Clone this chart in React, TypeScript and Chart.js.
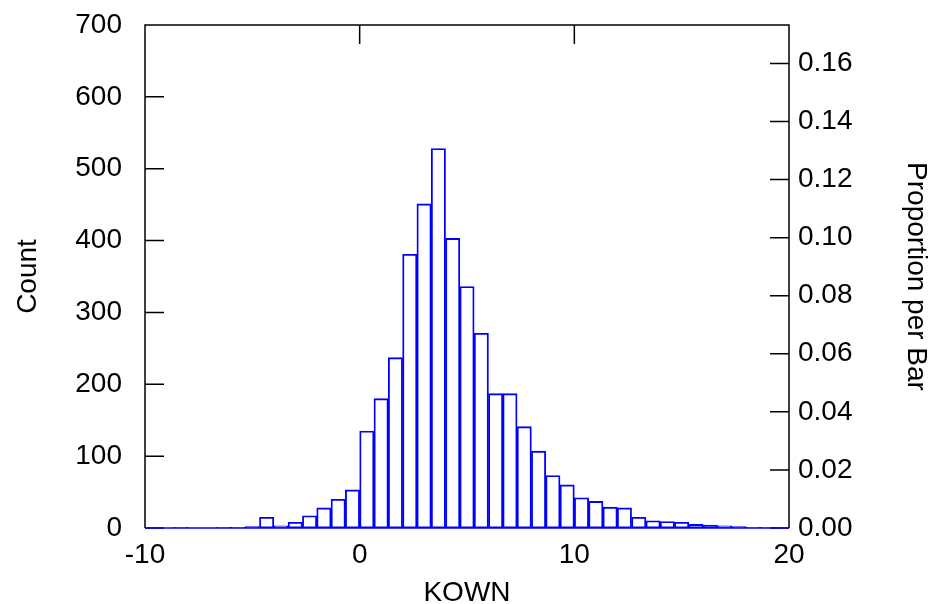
import React, { useEffect, useRef } from "react";
import { Chart, registerables } from "chart.js";

Chart.register(...registerables);

// Histogram bins: first bin starts at -10, each bin is 2/3 wide
const BIN_START = -10;
const BIN_WIDTH = 2 / 3;
const COUNTS = [
  0, 0, 1, 0, 0, 1, 1, 2, 15, 3, 8, 17, 28, 40, 53, 135, 180, 237, 381, 451,
  528, 403, 336, 271, 187, 187, 141, 107, 73, 60, 42, 37, 29, 28, 15, 10, 9, 8,
  5, 4, 3, 2, 1, 1, 1,
];
const X_TICKS = [-10, 0, 10, 20];
const COUNT_TICKS = [0, 100, 200, 300, 400, 500, 600, 700];
const PROPORTION_TICKS = [0, 0.02, 0.04, 0.06, 0.08, 0.1, 0.12, 0.14, 0.16];
const X_TITLE = "KOWN";
const Y_TITLE = "Count";
const Y2_TITLE = "Proportion per Bar";

const TOTAL = COUNTS.reduce((a, b) => a + b, 0);
const COUNT_MAX = 700;
const BAR_COLOR = "#0000ff";
const FONT = { family: "'Liberation Sans', Arial, sans-serif", size: 28 };

const framePlugin = {
  id: "frame",
  beforeDatasetsDraw(chart: any) {
    const { ctx, chartArea, scales } = chart;
    const { left, right, top, bottom } = chartArea;
    const L = 19;
    ctx.save();
    ctx.strokeStyle = "#000";
    ctx.lineWidth = 1.5;
    ctx.beginPath();
    ctx.moveTo(left, bottom);
    ctx.lineTo(left, top);
    ctx.lineTo(right, top);
    ctx.lineTo(right, bottom);
    for (const v of COUNT_TICKS) {
      const y = scales.y.getPixelForValue(v);
      ctx.moveTo(left, y);
      ctx.lineTo(left + L, y);
    }
    for (const v of PROPORTION_TICKS) {
      const y = scales.y2.getPixelForValue(v);
      ctx.moveTo(right, y);
      ctx.lineTo(right - L, y);
    }
    for (const v of X_TICKS) {
      const x = scales.x.getPixelForValue(v);
      ctx.moveTo(x, top);
      ctx.lineTo(x, top + L);
    }
    ctx.stroke();
    ctx.strokeStyle = BAR_COLOR;
    ctx.beginPath();
    ctx.moveTo(left, bottom);
    ctx.lineTo(right, bottom);
    ctx.stroke();
    ctx.restore();
  },
};

const noPad = (s: any) => {
  s.paddingTop = 0;
  s.paddingBottom = 0;
  s.paddingLeft = 0;
  s.paddingRight = 0;
};

export default function App() {
  const ref = useRef<HTMLCanvasElement>(null);

  useEffect(() => {
    document.body.style.margin = "0";
    const chart = new Chart(ref.current as HTMLCanvasElement, {
      type: "bar",
      data: {
        datasets: [
          {
            data: COUNTS.map((c, i) => ({ x: BIN_START + (i + 0.5) * BIN_WIDTH, y: c })),
            backgroundColor: "rgba(0,0,0,0)",
            borderColor: BAR_COLOR,
            borderWidth: 1.2,
            borderSkipped: false,
            barPercentage: 1,
            categoryPercentage: 1,
            xAxisID: "x",
            yAxisID: "y",
          } as any,
        ],
      },
      options: {
        responsive: false,
        animation: false,
        devicePixelRatio: 1,
        layout: { padding: { top: 25, left: 0, right: 0, bottom: 0 } },
        plugins: { legend: { display: false }, tooltip: { enabled: false } },
        scales: {
          x: {
            type: "linear",
            position: "bottom",
            min: -10,
            max: 20,
            offset: false,
            grid: { display: false, drawTicks: false },
            border: { display: false },
            afterBuildTicks: (s: any) => {
              s.ticks = X_TICKS.map((v) => ({ value: v }));
            },
            afterFit: (s: any) => {
              s.height = 76;
              noPad(s);
            },
            ticks: {
              font: FONT,
              color: "#000",
              padding: 10,
              maxRotation: 0,
              autoSkip: false,
              callback: (v: any) => String(v),
            },
            title: {
              display: true,
              text: X_TITLE,
              font: FONT,
              color: "#000",
              padding: { top: 0, bottom: -6 },
            },
          },
          y: {
            type: "linear",
            position: "left",
            min: 0,
            max: COUNT_MAX,
            grid: { display: false, drawTicks: false },
            border: { display: false },
            afterBuildTicks: (s: any) => {
              s.ticks = COUNT_TICKS.map((v) => ({ value: v }));
            },
            afterFit: (s: any) => {
              s.width = 145;
              noPad(s);
            },
            ticks: {
              font: FONT,
              color: "#000",
              padding: 23,
              autoSkip: false,
              callback: (v: any) => String(v),
            },
            title: {
              display: true,
              text: Y_TITLE,
              font: FONT,
              color: "#000",
              padding: { top: 11, bottom: 0 },
            },
          },
          y2: {
            type: "linear",
            position: "right",
            min: 0,
            max: COUNT_MAX / TOTAL,
            grid: { display: false, drawTicks: false },
            border: { display: false },
            afterBuildTicks: (s: any) => {
              s.ticks = PROPORTION_TICKS.map((v) => ({ value: v }));
            },
            afterFit: (s: any) => {
              s.width = 149;
              noPad(s);
            },
            ticks: {
              font: FONT,
              color: "#000",
              padding: 9,
              autoSkip: false,
              callback: (v: any) => Number(v).toFixed(2),
            },
            title: {
              display: true,
              text: Y2_TITLE,
              font: FONT,
              color: "#000",
              padding: { top: 5, bottom: 0 },
            },
          },
        },
      } as any,
      plugins: [framePlugin],
    });
    return () => chart.destroy();
  }, []);

  return (
    <div style={{ width: 938, height: 604 }}>
      <canvas ref={ref} width={938} height={604} style={{ display: "block" }} />
    </div>
  );
}
